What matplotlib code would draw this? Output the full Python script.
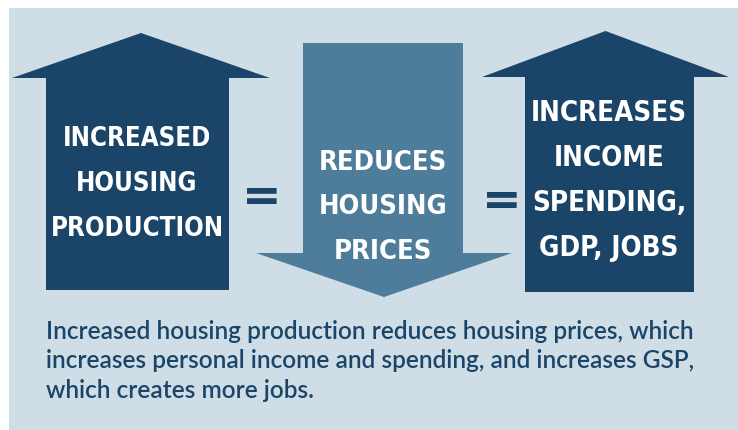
import matplotlib
matplotlib.use('Agg')
import matplotlib.pyplot as plt
from matplotlib.patches import Polygon, Rectangle

# colori
BG = '#cfdee6'
NAVY = '#1a4569'
STEEL = '#4e7c9b'

labels_left = ['INCREASED', 'HOUSING', 'PRODUCTION']
labels_mid = ['REDUCES', 'HOUSING', 'PRICES']
labels_right = ['INCREASES', 'INCOME', 'SPENDING,', 'GDP, JOBS']
caption = ['Increased housing production reduces housing prices, which',
           'increases personal income and spending, and increases GSP,',
           'which creates more jobs.']

HEAD_FONT = ['DejaVu Sans']
BODY_FONT = ['Lato', 'DejaVu Sans']


def arrow(ax, x0, x1, hx0, hx1, tip_y, base_y, end_y, color):
    # funziona sia in su che in giu, dipende da tip_y
    cx = (hx0 + hx1) / 2
    pts = [(x0, end_y), (x0, base_y), (hx0, base_y), (cx, tip_y),
           (hx1, base_y), (x1, base_y), (x1, end_y)]
    ax.add_patch(Polygon(pts, closed=True, facecolor=color, edgecolor='none'))


def stack_text(ax, lines, cx, y_first, step, size=21):
    out = []
    for i, t in enumerate(lines):
        out.append(ax.text(cx, y_first + i * step, t, ha='center', va='center', color='white',
                           fontsize=size, fontweight='bold', fontstretch='condensed',
                           family=HEAD_FONT))
    return out


def fit_width(fig, texts, target, base=21):
    # adatta la dimensione perche la riga piu larga sia larga target px
    fig.canvas.draw()
    r = fig.canvas.get_renderer()
    w = max(t.get_window_extent(r).width for t in texts)
    for t in texts:
        t.set_fontsize(base * target / w)


fig = plt.figure(figsize=(7.38, 4.30), dpi=100)
ax = fig.add_axes([0, 0, 1, 1])
ax.set_xlim(0, 738)
ax.set_ylim(430, 0)
ax.axis('off')

ax.add_patch(Rectangle((9, 8), 729, 422, facecolor=BG, edgecolor='none'))

arrow(ax, 46, 229, 12, 270, 33, 78, 290, NAVY)
arrow(ax, 303, 463, 256, 512, 297, 253, 43, STEEL)
arrow(ax, 525, 694, 482, 729, 31, 77, 292, NAVY)

t_left = stack_text(ax, labels_left, 137, 139, 45)
t_mid = stack_text(ax, labels_mid, 383, 163, 44.5)
t_right = stack_text(ax, labels_right, 609, 113, 45)

ax.text(262, 199, '=', ha='center', va='center', color=NAVY, fontsize=34,
        fontweight='bold', family='DejaVu Sans')
ax.text(502, 203, '=', ha='center', va='center', color=NAVY, fontsize=34,
        fontweight='bold', family='DejaVu Sans')

# didascalia
cap = []
for i, t in enumerate(caption):
    cap.append(ax.text(46, 339 + i * 29.5, t, ha='left', va='baseline', color=NAVY,
                       fontsize=15, fontweight='semibold', family=BODY_FONT))

# un po' piu larghe del riferimento: il font non e' abbastanza stretto
fit_width(fig, t_left, 172)
fit_width(fig, t_mid, 128)
fit_width(fig, t_right, 156)
fit_width(fig, cap[:1], 649, base=15)
for c in cap[1:]:
    c.set_fontsize(cap[0].get_fontsize())

fig.savefig('out.png', dpi=100, facecolor='white')
